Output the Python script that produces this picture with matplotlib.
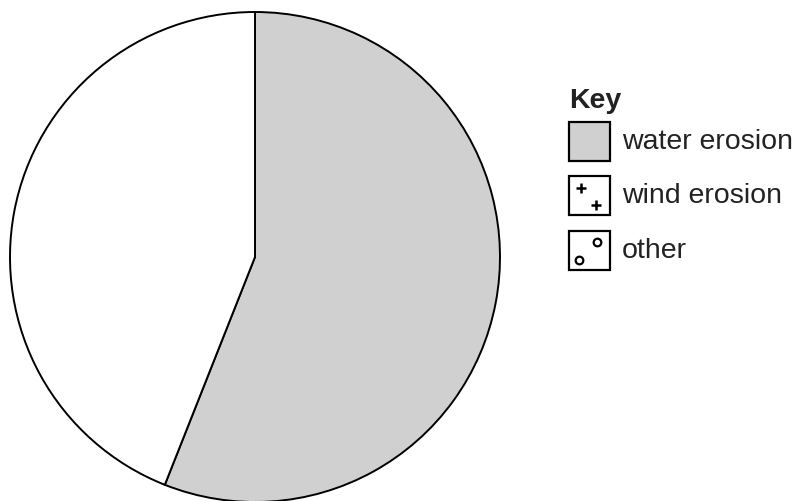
import matplotlib.pyplot as plt
from matplotlib.patches import Rectangle

# pie shares (percent); the remainder is left blank in the original
slices = ['water erosion', 'remainder']
shares = [56, 44]
slice_colors = ['#d0d0d0', 'white']

key_labels = ['water erosion', 'wind erosion', 'other']

plt.rcParams['font.family'] = ['Liberation Sans', 'DejaVu Sans']

fig = plt.figure(figsize=(8, 5.02), dpi=100)
ax = fig.add_axes([0, 0, 1, 1])
ax.set_xlim(0, 800)
ax.set_ylim(502, 0)
ax.set_aspect('equal')
ax.axis('off')

# y axis is inverted, so clockwise on screen means counterclock=True here
ax.pie(shares, colors=slice_colors, startangle=-90, counterclock=True,
       center=(255, 258), radius=245,
       wedgeprops=dict(edgecolor='black', linewidth=1.4))
ax.set_xlim(0, 800)
ax.set_ylim(502, 0)

# key
txt_col = '#222222'
ax.text(569, 101, 'Key', fontsize=20.5, fontweight='bold', color=txt_col,
        va='center', ha='left')
box_x, box_w, box_h = 569, 41, 39
tops = [123, 177, 232]
for i, lab in enumerate(key_labels):
    y0 = tops[i]
    fc = slice_colors[0] if i == 0 else 'white'
    ax.add_patch(Rectangle((box_x, y0), box_w, box_h, facecolor=fc,
                           edgecolor='black', linewidth=1.6))
    ax.text(622, y0 + box_h / 2, lab, fontsize=20.5, color=txt_col,
            va='center', ha='left')

# symbols inside the wind / other boxes
ax.plot([581, 596], [tops[1] + 12, tops[1] + 29], '+', color='black',
        markersize=6.5, markeredgewidth=1.8)
ax.plot([597, 579], [tops[2] + 11, tops[2] + 29], 'o', color='black',
        markerfacecolor='white', markersize=5.5, markeredgewidth=1.6)

fig.savefig('out.png', dpi=100, facecolor='white')
